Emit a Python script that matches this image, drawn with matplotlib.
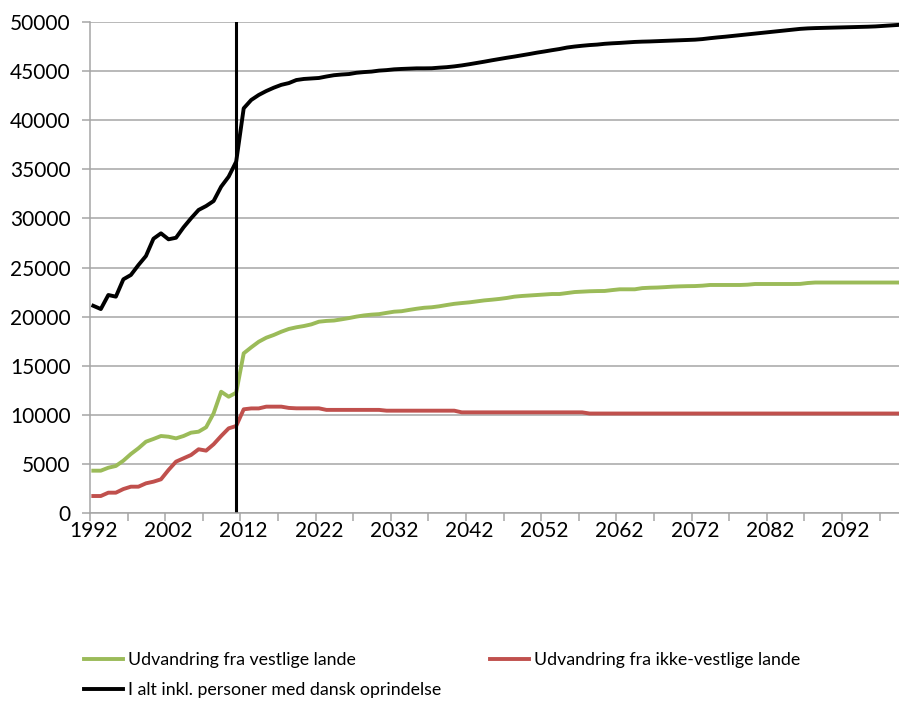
import numpy as np
import matplotlib.pyplot as plt
from matplotlib.ticker import MultipleLocator, FixedLocator

plt.rcParams['font.family'] = ['Lato', 'DejaVu Sans']

years = np.arange(1992, 2100)

# I alt inkl. personer med dansk oprindelse
total = [
    21100, 20770, 22200, 22030, 23800, 24240, 25250, 26170, 27930, 28480,
    27870, 28030, 29090, 30010, 30860, 31260, 31770, 33230, 34250, 35780,
    41210, 42060, 42570, 42970, 43310, 43600, 43780, 44090, 44200, 44250,
    44300, 44450, 44580, 44650, 44700, 44830, 44900, 44950, 45050, 45100,
    45180, 45220, 45250, 45280, 45280, 45290, 45350, 45400, 45480, 45580,
    45700, 45830, 45960, 46100, 46230, 46360, 46480, 46610, 46740, 46880,
    47000, 47130, 47250, 47400, 47500, 47580, 47650, 47700, 47780, 47830,
    47870, 47920, 47970, 48000, 48020, 48050, 48080, 48110, 48140, 48170,
    48200, 48260, 48350, 48430, 48500, 48580, 48660, 48740, 48820, 48900,
    48980, 49060, 49140, 49220, 49300, 49350, 49380, 49400, 49420, 49440,
    49460, 49480, 49500, 49520, 49550, 49600, 49650, 49700,
]

# Udvandring fra vestlige lande
vestlige = [
    4310, 4310, 4610, 4790, 5330, 6010, 6590, 7260, 7540, 7840,
    7770, 7600, 7840, 8180, 8280, 8730, 10150, 12350, 11840, 12250,
    16260, 16870, 17440, 17850, 18130, 18460, 18740, 18910, 19040, 19210,
    19480, 19560, 19600, 19720, 19850, 20000, 20120, 20200, 20250, 20380,
    20500, 20550, 20680, 20800, 20900, 20950, 21050, 21180, 21300, 21380,
    21450, 21550, 21650, 21720, 21800, 21900, 22030, 22100, 22150, 22200,
    22250, 22300, 22300, 22400, 22500, 22540, 22580, 22600, 22610, 22700,
    22780, 22780, 22780, 22900, 22940, 22960, 23000, 23050, 23080, 23100,
    23110, 23150, 23220, 23220, 23220, 23220, 23220, 23250, 23320, 23320,
    23320, 23320, 23320, 23320, 23330, 23420, 23470, 23470, 23470, 23470,
    23470, 23470, 23470, 23470, 23470, 23470, 23470, 23470,
]

# Udvandring fra ikke-vestlige lande
ikke_vestlige = [
    1730, 1730, 2070, 2070, 2440, 2680, 2680, 3020, 3190, 3430,
    4380, 5230, 5570, 5910, 6490, 6350, 7000, 7840, 8620, 8860,
    10560, 10650, 10650, 10830, 10830, 10830, 10700, 10660, 10660, 10660,
    10660, 10500, 10500, 10500, 10500, 10500, 10500, 10500, 10500, 10420,
    10420, 10420, 10420, 10420, 10420, 10420, 10420, 10420, 10420, 10250,
    10250, 10250, 10250, 10250, 10250, 10250, 10250, 10250, 10250, 10250,
    10250, 10250, 10250, 10250, 10250, 10250, 10130, 10130, 10130, 10130,
    10130, 10130, 10130, 10130, 10130, 10130, 10130, 10130, 10130, 10130,
    10130, 10130, 10130, 10130, 10130, 10130, 10130, 10130, 10130, 10130,
    10130, 10130, 10130, 10130, 10130, 10130, 10130, 10130, 10130, 10130,
    10130, 10130, 10130, 10130, 10130, 10130, 10130, 10130,
]

split_year = 2011  # last observed year

labels = [
    'Udvandring fra vestlige lande',
    'Udvandring fra ikke-vestlige lande',
    'I alt inkl. personer med dansk oprindelse',
]

fig = plt.figure(figsize=(8.99, 7.04), dpi=100)
ax = fig.add_axes([90 / 899, 191 / 704, 809 / 899, 491 / 704])

grid_col = '#a6a6a6'
ax.set_ylim(0, 50000)
ax.yaxis.set_major_locator(MultipleLocator(5000))
ax.grid(axis='y', color=grid_col, linewidth=1.1)
ax.set_axisbelow(True)

x0 = 1992 - 3.3 / 7.52
ax.set_xlim(x0, x0 + 809 / 7.52)

l_green, = ax.plot(years, vestlige, color='#9bbb59', linewidth=2.8)
l_red, = ax.plot(years, ikke_vestlige, color='#c0504d', linewidth=2.8)
l_black, = ax.plot(years, total, color='black', linewidth=2.8)
ax.axvline(split_year, color='black', linewidth=2.2)

for s in ['top', 'right']:
    ax.spines[s].set_visible(False)
for s in ['left', 'bottom']:
    ax.spines[s].set_color(grid_col)
    ax.spines[s].set_linewidth(1.1)

# labels every 10 years, tick marks every 5 categories
ax.xaxis.set_major_locator(FixedLocator(np.arange(1992, 2100, 10)))
ax.xaxis.set_minor_locator(FixedLocator(x0 + np.arange(0, 110, 5)))
ax.tick_params(axis='x', which='major', length=0, pad=6, labelsize=15)
ax.tick_params(axis='x', which='minor', length=6, color=grid_col, width=1.1)
ax.tick_params(axis='y', length=6, color=grid_col, width=1.1, pad=8, labelsize=15)

fig.legend([l_green, l_black, l_red], [labels[0], labels[2], labels[1]],
           ncol=2, loc='upper left', bbox_to_anchor=(68 / 899, 1 - 636 / 704),
           frameon=False, fontsize=12.8, handlelength=2.2, handletextpad=0.3,
           columnspacing=2.7, labelspacing=0.8)

fig.savefig('out.png', dpi=100)
